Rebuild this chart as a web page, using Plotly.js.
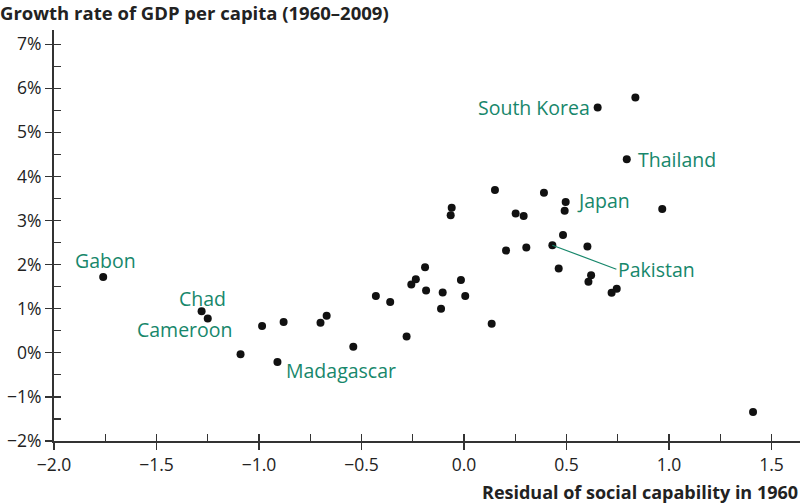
<!DOCTYPE html>
<html>
<head>
<meta charset="utf-8">
<script src="https://cdn.plot.ly/plotly-3.0.1.min.js"></script>
<style>html,body{margin:0;padding:0;background:#fff;}#chart{width:800px;height:503px;}</style>
</head>
<body>
<div id="chart"></div>
<script>
// Residual of social capability in 1960 (x) and growth rate of GDP per capita 1960–2009 in % (y)
const residual = [-1.76,-1.28,-1.25,-1.09,-0.985,-0.88,-0.91,-0.70,-0.67,-0.54,-0.43,-0.36,-0.28,-0.257,-0.235,-0.19,-0.185,-0.104,-0.112,-0.015,0.006,-0.06,-0.065,0.151,0.252,0.291,0.205,0.135,0.304,0.431,0.602,0.483,0.462,0.390,0.496,0.491,0.652,0.836,0.794,0.967,0.620,0.607,0.745,0.720,1.410];
const growth   = [1.72,0.94,0.78,-0.03,0.61,0.70,-0.21,0.68,0.84,0.14,1.29,1.15,0.37,1.55,1.67,1.94,1.41,1.37,1.00,1.65,1.29,3.29,3.12,3.69,3.16,3.10,2.32,0.66,2.39,2.44,2.41,2.67,1.91,3.63,3.42,3.22,5.56,5.79,4.39,3.26,1.76,1.61,1.45,1.36,-1.34];
const countryNames = ["Gabon","Chad","Cameroon","","","","Madagascar","","","","","","","","","","","","","","","","","","","","","","","Pakistan","","","","","Japan","","South Korea","","Thailand","","","","","",""];
const xTickVals = [-2.0,-1.5,-1.0,-0.5,0.0,0.5,1.0,1.5];
const yTickVals = [-2,-1,0,1,2,3,4,5,6,7];
const chartTitle = "Growth rate of GDP per capita (1960–2009)";
const xTitle = "Residual of social capability in 1960";

// label placement (style only)
const labelStyle = {
  "Gabon":      {xanchor:"center", xshift:2,  yshift:16},
  "Chad":       {xanchor:"center", xshift:1,  yshift:13},
  "Cameroon":   {xanchor:"right",  xshift:27, yshift:-11},
  "Madagascar": {xanchor:"left",   xshift:7,  yshift:-8},
  "South Korea":{xanchor:"right",  xshift:-6, yshift:0},
  "Thailand":   {xanchor:"left",   xshift:9,  yshift:0},
  "Japan":      {xanchor:"left",   xshift:9,  yshift:1},
  "Pakistan":   {arrow:true, ax:64, ay:24}
};
const green = "#17876b";
const font = "'Open Sans', 'Noto Sans', sans-serif";
const labelSize = 19.5;

const annotations = [];
countryNames.forEach((name,i)=>{
  if(!name) return;
  const s = labelStyle[name];
  if(s.arrow){
    annotations.push({x:residual[i], y:growth[i], xref:"x", yref:"y", text:name,
      showarrow:true, arrowhead:0, arrowwidth:1.2, arrowcolor:green, ax:s.ax, ay:s.ay,
      xanchor:"left", yanchor:"middle", standoff:0, startstandoff:0,
      font:{family:font, size:labelSize, color:green}});
  } else {
    annotations.push({x:residual[i], y:growth[i], xref:"x", yref:"y", text:name,
      showarrow:false, xanchor:s.xanchor, yanchor:"middle", xshift:s.xshift, yshift:s.yshift,
      font:{family:font, size:labelSize, color:green}});
  }
});
annotations.push({text:"<b>"+xTitle+"</b>", xref:"paper", yref:"paper", x:1, y:-0.125,
  xanchor:"right", yanchor:"middle", showarrow:false, font:{family:font, size:18, color:"#222"}});
annotations.push({text:"<b>"+chartTitle+"</b>", xref:"paper", yref:"paper", x:-54/746, y:1+18/411,
  xanchor:"left", yanchor:"middle", showarrow:false, xshift:-2, font:{family:font, size:18.5, color:"#222"}});

const xr = [-2, 1.639];
const yr = [-2, 7.32];

const data = [{
  type:"scatter", mode:"markers", x:residual, y:growth,
  marker:{color:"#111", size:8}, hoverinfo:"skip", cliponaxis:false
},{type:"scatter", mode:"markers", x:[], y:[], xaxis:"x2", yaxis:"y2", hoverinfo:"skip", showlegend:false}];

const layout = {
  width:800, height:503,
  margin:{l:54, r:0, t:30, b:62},
  paper_bgcolor:"#fff", plot_bgcolor:"#fff",
  showlegend:false,
  font:{family:font, color:"#222", size:18},
  xaxis:{range:xr, showgrid:false, zeroline:false, showline:true, linecolor:"#333", linewidth:2,
         tickmode:"array", tickvals:xTickVals, ticktext:xTickVals.map(v=>(v<0?"−":"")+Math.abs(v).toFixed(1)),
         ticks:"outside", ticklen:7, tickwidth:1.2, tickcolor:"#333",
         tickfont:{family:font, size:17.5, color:"#222"}},
  xaxis2:{range:xr, overlaying:"x", anchor:"y", side:"bottom", showgrid:false, zeroline:false, showline:false,
          tickmode:"linear", tick0:-2, dtick:0.25, ticks:"inside", ticklen:7, tickwidth:1.2, tickcolor:"#333",
          showticklabels:false},
  yaxis:{range:yr, showgrid:false, zeroline:false, showline:true, linecolor:"#333", linewidth:2,
         tickmode:"array", tickvals:yTickVals, ticktext:yTickVals.map(v=>(v<0?"−":"")+Math.abs(v)+"%"),
         ticks:"outside", ticklen:7, tickwidth:1.2, tickcolor:"#333",
         tickfont:{family:font, size:17.5, color:"#222"}},
  yaxis2:{range:yr, overlaying:"y", anchor:"x", side:"left", showgrid:false, zeroline:false, showline:false,
          tickmode:"linear", tick0:-2, dtick:0.5, ticks:"inside", ticklen:7, tickwidth:1.2, tickcolor:"#333",
          showticklabels:false},
  annotations:annotations
};

Plotly.newPlot("chart", data, layout, {staticPlot:true});
</script>
</body>
</html>
